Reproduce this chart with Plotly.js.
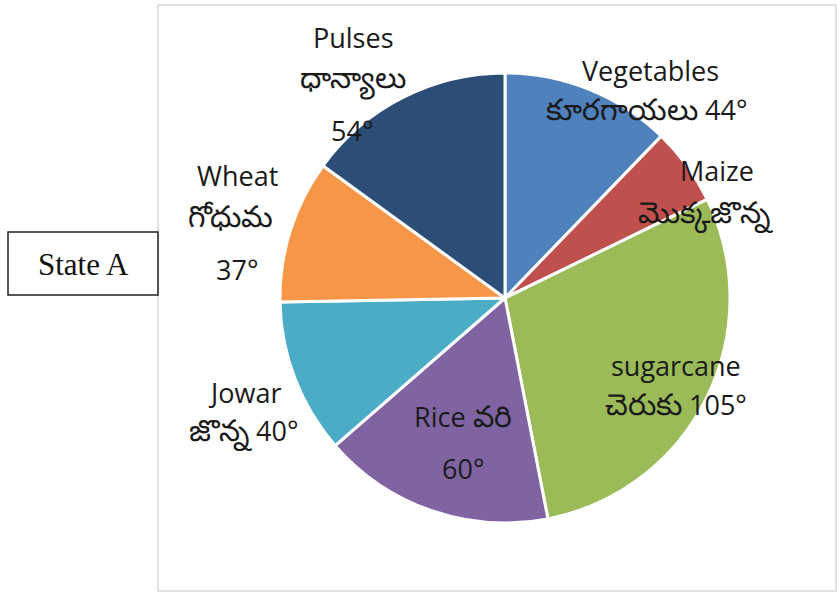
<!DOCTYPE html>
<html>
<head>
<meta charset="utf-8">
<script src="https://cdn.plot.ly/plotly-3.0.1.min.js"></script>
<style>html,body{margin:0;padding:0;background:#fff;}#chart{width:837px;height:595px;}</style>
</head>
<body>
<div id="chart"></div>
<script>
// Data (degrees of the circle), clockwise from 12 o'clock
const crops = ["Vegetables", "Maize", "sugarcane", "Rice", "Jowar", "Wheat", "Pulses"];
const cropsTelugu = ["కూరగాయలు", "మొక్కజొన్న", "చెరుకు", "వరి", "జొన్న", "గోధుమ", "ధాన్యాలు"];
const degrees = [44, 20, 105, 60, 40, 37, 54];
const colors = ["#4F81BD", "#C0504D", "#9BBB59", "#8064A2", "#4BACC6", "#F79646", "#2C4D75"];
const stateName = "State A";

const W = 837, H = 595;
const deg = i => degrees[i] + "°";
const te = i => '<span style="font-size:30px">' + cropsTelugu[i] + '</span>';

// label lines: [text, xpx, ypx]
const lines = [
  [crops[6], 353, 37], [te(6), 353, 78], [deg(6), 352, 130],
  [crops[0], 650, 70], [te(0) + " " + deg(0), 646, 108],
  [crops[1], 717, 170], [te(1), 706, 212],
  [crops[2], 676, 365], [te(2) + " " + deg(2), 676, 403],
  [crops[3] + " " + te(3), 463, 415], [deg(3), 463, 468],
  [crops[4], 244, 392], [te(4) + " " + deg(4), 243, 430],
  [crops[5], 237, 175], [te(5), 230, 215], [deg(5), 237, 270]
];

const annotations = lines.map(l => ({
  text: l[0], x: l[1] / W, y: 1 - l[2] / H, xref: "paper", yref: "paper",
  xanchor: "center", yanchor: "middle", showarrow: false,
  font: {family: "Open Sans, Noto Sans, sans-serif", size: 27, color: "#1a1a1a"}
}));
annotations.push({
  text: stateName, x: 83 / W, y: 1 - 264 / H, xref: "paper", yref: "paper",
  xanchor: "center", yanchor: "middle", showarrow: false,
  font: {family: "Liberation Serif, serif", size: 31, color: "#111"}
});

const cx = 505, cy = 298, r = 225;
const trace = {
  type: "pie",
  labels: crops,
  values: degrees,
  sort: false,
  direction: "clockwise",
  rotation: 0,
  textinfo: "none",
  hoverinfo: "label+value",
  marker: {colors: colors, line: {color: "#ffffff", width: 3}},
  domain: {x: [(cx - r) / W, (cx + r) / W], y: [(H - cy - r) / H, (H - cy + r) / H]},
  showlegend: false
};

const layout = {
  width: W, height: H,
  margin: {l: 0, r: 0, t: 0, b: 0},
  paper_bgcolor: "#ffffff",
  showlegend: false,
  annotations: annotations,
  shapes: [
    {type: "rect", xref: "paper", yref: "paper", x0: 158 / W, x1: 836 / W, y0: 1 - 591 / H, y1: 1 - 5 / H,
     line: {color: "#D9D9D9", width: 1.5}, fillcolor: "rgba(0,0,0,0)"},
    {type: "rect", xref: "paper", yref: "paper", x0: 8 / W, x1: 158 / W, y0: 1 - 295 / H, y1: 1 - 232 / H,
     line: {color: "#222", width: 1.5}, fillcolor: "#ffffff"}
  ]
};

Plotly.newPlot("chart", [trace], layout, {staticPlot: true});
</script>
</body>
</html>
